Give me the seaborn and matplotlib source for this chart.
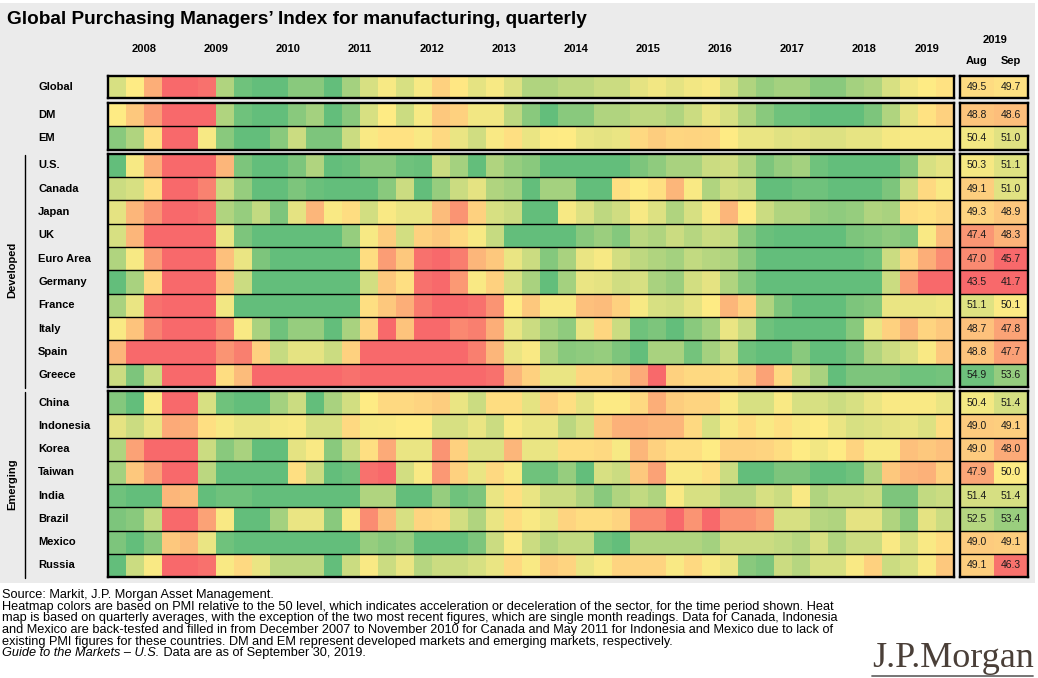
import numpy as np
import pandas as pd
import matplotlib
matplotlib.use("Agg")
import matplotlib.pyplot as plt
import seaborn as sns
from matplotlib.colors import LinearSegmentedColormap, TwoSlopeNorm
from matplotlib.patches import Rectangle
from matplotlib.lines import Line2D
from matplotlib.transforms import blended_transform_factory

# ---------------- data ----------------
year_labels = ["2008", "2009", "2010", "2011", "2012", "2013", "2014", "2015",
               "2016", "2017", "2018", "2019"]
quarters = [f"{y}Q{q}" for y in range(2008, 2020) for q in range(1, 5)][:47]

global_pmi = [51.5, 50, 46.5, 42, 42, 43, 53, 55.5, 56, 56, 54.5, 54.5, 56, 53.5, 51.5, 50.3,
              51.5, 50.3, 48.5, 49.8, 51, 50.3, 51.3, 53, 53, 52.5, 52.5, 52, 52, 51, 50.5, 51,
              50.5, 50.2, 51.5, 53, 54, 53.5, 53.5, 54.5, 54.5, 53.5, 53, 51.5, 50.5, 50, 49.5]
dm = [50, 48, 45.5, 42, 42, 42, 53, 55.5, 56, 56, 54.5, 53.5, 56, 54.5, 51.5, 50,
      52, 50.3, 48, 48.5, 50.5, 50.5, 52.5, 54.5, 56, 54.5, 54.5, 53, 53, 52.5, 52.5, 53,
      52, 50.8, 51.5, 53, 54.5, 55.5, 55.5, 56, 56, 56, 55, 53, 51, 49.5, 48.5]
em = [54.5, 53, 49.3, 42, 42.5, 50.3, 54.5, 56, 56, 54.5, 52, 55, 55, 52, 50.2, 49.5,
      49.5, 50.2, 49, 50.8, 51.8, 50.2, 49.3, 50.8, 50.1, 50, 50.8, 51, 50.8, 49, 48.3, 48.8,
      48.7, 48.8, 50, 50.8, 50.8, 51.2, 51, 51.3, 51.3, 50.9, 50.9, 50.4, 50.2, 50.2, 50.2]
us = [56, 50.3, 46.5, 42, 42, 42, 47, 55, 56, 56, 55, 53, 56, 55.7, 54.5, 54.5,
      55.5, 55.7, 52, 53.5, 56, 53, 54, 54.5, 56, 56, 56, 56, 56, 55, 54.3, 53.3,
      53.3, 52, 51.8, 53, 55, 54, 53.5, 55.5, 56, 56, 56, 56, 54.5, 51.5, 51]
canada = [52, 51.5, 49.2, 42, 42, 44, 52, 54, 56, 56, 55, 55.7, 56, 56, 56, 54.5,
          52, 56, 54, 52, 51, 53, 53.5, 56, 53.5, 53.5, 56, 56, 49.3, 50, 49.3, 47,
          50.2, 53, 51.7, 52.2, 56, 56, 55.5, 55.5, 56, 56, 56, 55, 52, 49, 50.2]
japan = [51, 47, 45, 42.5, 42.5, 43, 53, 54, 52.3, 55, 51, 47, 50.2, 49.2, 51.7, 50.2,
         50.8, 50.8, 47.3, 45, 48.5, 51.5, 52, 56, 56, 50.3, 51.3, 52.5, 51.8, 50.3, 51.3, 53,
         51.5, 50.2, 47, 50, 52, 53, 53, 54, 54.3, 54, 53, 53.3, 49.2, 49.5, 49]
uk = [51.5, 47, 42.5, 42, 42, 42, 50.8, 55, 56, 56, 56, 56, 56, 54, 50.3, 48.2,
      51.7, 48.5, 48, 49, 50.3, 52.2, 56, 56, 56, 56, 54.5, 53.8, 54.7, 52.6, 53, 52,
      52.8, 52, 52.2, 54.5, 55.7, 56, 56, 56, 56, 55, 54.7, 54.3, 54.7, 50.2, 47.3]
euro = [53, 50.3, 45.5, 42, 42, 42, 47.5, 50.8, 55, 56, 56, 56, 56, 56, 49.2, 45.5,
        48, 43, 42.5, 43.7, 47, 48, 50.8, 52, 54.7, 53.3, 50.8, 50.3, 51.7, 52.5, 53, 53.5,
        52.3, 52.8, 53, 54.5, 56, 56, 56, 56, 56, 56, 55.5, 52, 48.7, 46.5, 44.5]
germany = [56, 53.3, 49, 42, 42, 42, 47.7, 52, 56, 56, 56, 56, 56, 56, 51.7, 48,
           49.3, 43, 42.5, 45.3, 50.2, 48.5, 51.5, 53.3, 56, 53.5, 50.8, 51, 51.8, 51.5, 53.3, 53.8,
           51.7, 51, 53, 54.7, 56, 56, 56, 56, 56, 56, 56, 52, 45.5, 42.3, 42.3]
france = [53.3, 50.8, 43, 42, 42, 42, 50.5, 56, 56, 56, 56, 56, 56, 56, 49.3, 48,
          46.5, 43.5, 42.3, 42.3, 43, 45, 50, 48, 50.2, 50.2, 47.5, 47.3, 48.5, 50.3, 51.5, 51.7,
          51, 50, 47, 48.5, 53, 55, 56, 56, 56, 55, 54.7, 50.8, 50.8, 50.8, 50.6]
italy = [50.2, 47.7, 44, 42.3, 42.3, 42.5, 44.5, 50.2, 53.3, 55.5, 54, 54, 56, 53.3, 48.7, 42.5,
         47.7, 42.5, 42.5, 44.3, 43.8, 46.5, 50.8, 52, 53.5, 54.3, 50.8, 48.8, 52, 55.5, 55, 56,
         54.5, 53.5, 50.8, 52.2, 55.5, 56, 56, 56, 56, 54.5, 50.8, 48.5, 47, 48.7, 48]
spain = [47, 42.3, 42.3, 42.3, 42.3, 42.3, 45, 43.8, 48.5, 52.2, 51, 51, 52, 48.5, 42.5, 42.5,
         42.3, 42.3, 42.3, 42.5, 43.8, 47, 50.8, 50.2, 53.3, 54.5, 54.3, 54, 55, 56, 53.3, 53.3,
         55.3, 53.5, 52.2, 55.5, 56, 56, 54.5, 56, 56, 55, 53, 52, 51.3, 50.2, 48]
greece = [52, 55, 52, 42.3, 42.3, 42.3, 49.2, 47.3, 42.3, 42.3, 42.3, 42.3, 42.3, 43, 42.3, 42.3,
          42.3, 42.3, 42.3, 42.3, 42.3, 43, 47, 48.5, 50.8, 50.8, 48.8, 48.8, 48.3, 46.3, 42.5, 48.5,
          49, 49, 49.2, 48.3, 45.8, 49, 52, 53.3, 56, 55, 55, 55, 55.5, 55.5, 55.3]
china = [54.7, 56, 50.2, 42.3, 42.5, 51.5, 55.5, 56, 56, 53.5, 52, 56, 53.3, 51.7, 50, 49,
         49, 48.7, 48.3, 50.8, 52, 49.2, 49.2, 51, 48.5, 49.3, 51, 50.1, 50.1, 49, 46.5, 48.3,
         48.7, 48.7, 50.2, 51.5, 51.5, 50.2, 51.5, 51.5, 52, 51.5, 50.8, 50.2, 50.2, 50.2, 50.8]
indonesia = [51, 52, 50.8, 46.3, 46.5, 49.3, 50.3, 50.8, 50.8, 50.4, 50.2, 51.5, 51.5, 49, 50.3, 50.2,
             50, 50, 51.5, 51.5, 50.8, 52, 50.2, 50.8, 50.8, 52.6, 51.5, 48, 46.7, 46.6, 47, 47,
             49, 51.5, 50.2, 49.2, 50.2, 49.4, 50.2, 50, 50.8, 51.5, 51.3, 51, 50.8, 51.3, 49.2]
korea = [53, 45.8, 42.3, 42.3, 42.3, 52, 54.5, 53.3, 56, 56, 51, 50.2, 54.5, 52, 49.3, 46.3,
         50.8, 50.8, 45, 48.5, 51.3, 51.3, 47, 50.8, 50.8, 49.2, 49.2, 49, 50.3, 47, 48.5, 49.3,
         49.3, 50, 48.5, 48.5, 48.7, 49.2, 50, 50.5, 50, 48.7, 50.2, 50.2, 47.5, 48, 47.5]
taiwan = [53.5, 48, 45.8, 42.3, 42.3, 52.6, 56, 56, 56, 56, 49.3, 52, 56, 55.5, 43, 42.5,
          51.7, 50.2, 45.2, 48.5, 50.8, 49, 50.2, 55.5, 55.5, 54, 56, 51.5, 52, 48, 45.8, 50.2,
          50.2, 49.4, 52, 56, 56, 55, 55, 56, 56, 55.5, 53, 48, 47, 46.7, 48.5]
india = [55.5, 56, 56, 47, 47.3, 56, 55.5, 55.5, 56, 56, 56, 56, 56, 56, 53, 53,
         56, 56, 54, 55.5, 55, 50.8, 49.4, 50.8, 52, 52, 53, 54.5, 53, 52.3, 53, 50.2,
         51.5, 51.5, 52.6, 52.6, 51.5, 52, 50.2, 53, 52.3, 52.3, 52, 55, 55, 52.3, 52]
brazil = [55, 54.5, 52.3, 42.3, 42.3, 45.8, 50.2, 56, 56, 53.5, 50.8, 50.8, 54.5, 50.2, 44.5, 47.3,
          51.5, 48.7, 49, 51.7, 53, 50.8, 49.2, 50.2, 50.8, 48.7, 49.2, 49.2, 48.7, 44.3, 44.3, 42.5,
          45, 42.5, 45, 45, 45.8, 51.5, 51.5, 52.8, 53, 51, 51, 53, 54.5, 51, 52]
mexico = [55, 56, 54.5, 48, 47.3, 50.8, 55.5, 56, 56, 56, 56, 56, 56, 56, 54, 54.5,
          54, 56, 56, 56, 55, 52, 50.2, 52, 53, 52.3, 52.3, 55.5, 56, 53, 53, 53,
          53, 53.5, 52, 52, 52, 52.3, 52.8, 51.5, 53, 52, 52, 50.2, 51.5, 50.2, 49.2]
russia = [56, 52, 50.2, 42.3, 42.3, 43, 50.2, 49, 50.8, 52.6, 52.6, 52.6, 56, 52, 50.2, 52,
          50.8, 52.8, 52, 52, 51.5, 50.8, 49, 50.2, 48.3, 48.7, 50.8, 50.2, 48.7, 48.7, 48.7, 50.2,
          49, 50.2, 50.8, 54.5, 55, 52, 52.8, 51.5, 51.5, 50.2, 48.5, 52, 51.5, 50.2, 48]

row_names = ["Global", "DM", "EM", "U.S.", "Canada", "Japan", "UK", "Euro Area", "Germany",
             "France", "Italy", "Spain", "Greece", "China", "Indonesia", "Korea", "Taiwan",
             "India", "Brazil", "Mexico", "Russia"]
aug_2019 = [49.5, 48.8, 50.4, 50.3, 49.1, 49.3, 47.4, 47.0, 43.5, 51.1, 48.7, 48.8, 54.9,
            50.4, 49.0, 49.0, 47.9, 51.4, 52.5, 49.0, 49.1]
sep_2019 = [49.7, 48.6, 51.0, 51.1, 51.0, 48.9, 48.3, 45.7, 41.7, 50.1, 47.8, 47.7, 53.6,
            51.4, 49.1, 48.0, 50.0, 51.4, 53.4, 49.1, 46.3]

all_rows = [global_pmi, dm, em, us, canada, japan, uk, euro, germany, france, italy, spain,
            greece, china, indonesia, korea, taiwan, india, brazil, mexico, russia]
heat = pd.DataFrame(all_rows, index=row_names, columns=quarters)
panel = pd.DataFrame({"Aug": aug_2019, "Sep": sep_2019}, index=row_names)

groups = [("", 0, 1), ("", 1, 3), ("Developed", 3, 13), ("Emerging", 13, 21)]

# ---------------- style ----------------
sns.set_theme(style="white")
plt.rcParams["font.family"] = ["Liberation Sans", "DejaVu Sans"]
plt.rcParams["text.color"] = "black"

cmap = LinearSegmentedColormap.from_list("pmi", ["#F8696B", "#FFEB84", "#63BE7B"])
norm_main = TwoSlopeNorm(vmin=42.5, vcenter=50, vmax=56)
norm_panel = TwoSlopeNorm(vmin=46, vcenter=50, vmax=55.3)

W, H = 1038, 678
fig = plt.figure(figsize=(W / 100, H / 100), dpi=100)
fig.patch.set_facecolor("white")
fig.add_artist(Rectangle((0, 1 - 583 / H), 1035 / W, (583 - 3) / H,
                         transform=fig.transFigure, facecolor="#EBEBEB",
                         edgecolor="none", zorder=-5))


def px_axes(x0, y0, x1, y1):
    return fig.add_axes([x0 / W, 1 - y1 / H, (x1 - x0) / W, (y1 - y0) / H])


group_px = [(75.5, 97.5), (103, 149.5), (153.5, 387), (391, 577)]
heat_x0, heat_x1 = 108, 954
panel_x0, panel_x1 = 960, 1028

axes_main = []
for (glabel, r0, r1), (y0, y1) in zip(groups, group_px):
    ax = px_axes(heat_x0, y0, heat_x1, y1)
    sub = heat.iloc[r0:r1]
    sns.heatmap(sub, ax=ax, cmap=cmap, norm=norm_main, cbar=False,
                xticklabels=False, yticklabels=False)
    ax.set_xlabel("")
    ax.set_ylabel("")
    for s in ax.spines.values():
        s.set_visible(True)
        s.set_color("black")
        s.set_linewidth(1.7)
    for i in range(1, r1 - r0):
        ax.axhline(i, color="black", lw=1.0)
    for i, name in enumerate(sub.index):
        ax.text(-(heat_x0 - 38) / 18, i + 0.5, name, ha="left", va="center",
                fontsize=8, fontweight="bold", color="black")
    axes_main.append(ax)

    axp = px_axes(panel_x0, y0, panel_x1, y1)
    psub = panel.iloc[r0:r1]
    sns.heatmap(psub, ax=axp, cmap=cmap, norm=norm_panel, cbar=False,
                annot=True, fmt=".1f",
                annot_kws={"fontsize": 7.5, "color": "#1a1a1a"},
                xticklabels=False, yticklabels=False)
    axp.set_xlabel("")
    axp.set_ylabel("")
    for s in axp.spines.values():
        s.set_visible(True)
        s.set_color("black")
        s.set_linewidth(1.7)
    for i in range(1, r1 - r0):
        axp.axhline(i, color="black", lw=1.0)

    if glabel:
        fig.text(12 / W, 1 - ((y0 + y1) / 2) / H, glabel, rotation=90,
                 ha="center", va="center", fontsize=8, fontweight="bold")
        fig.add_artist(Line2D([24.5 / W, 24.5 / W], [1 - (y0 + 1) / H, 1 - (y1 + 1) / H],
                              transform=fig.transFigure, color="black", lw=1.0))

# year labels along the top
ax0 = axes_main[0]
trans = blended_transform_factory(ax0.transData, fig.transFigure)
for k, yl in enumerate(year_labels):
    if yl == "2019":
        xc = 44 + 1.5
    else:
        xc = 4 * k + 2
    ax0.text(xc, 1 - 49 / H, yl, transform=trans, ha="center", va="center",
             fontsize=8, fontweight="bold")

fig.text(995 / W, 1 - 40 / H, "2019", ha="center", va="center", fontsize=8, fontweight="bold")
fig.text(977 / W, 1 - 61 / H, "Aug", ha="center", va="center", fontsize=8, fontweight="bold")
fig.text(1011 / W, 1 - 61 / H, "Sep", ha="center", va="center", fontsize=8, fontweight="bold")

# title
fig.text(7 / W, 1 - 20 / H, "Global Purchasing Managers\u2019 Index for manufacturing, quarterly",
         ha="left", va="center", fontsize=13.7, fontweight="bold", color="black")

# footnotes
foot = [
    "Source: Markit, J.P. Morgan Asset Management.",
    "Heatmap colors are based on PMI relative to the 50 level, which indicates acceleration or deceleration of the sector, for the time period shown. Heat",
    "map is based on quarterly averages, with the exception of the two most recent figures, which are single month readings. Data for Canada, Indonesia",
    "and Mexico are back-tested and filled in from December 2007 to November 2010 for Canada and May 2011 for Indonesia and Mexico due to lack of",
    "existing PMI figures for these countries. DM and EM represent developed markets and emerging markets, respectively.",
]
fs_foot = 9.2
ys = [595, 607, 618.5, 630, 641.5]
for line, yy in zip(foot, ys):
    fig.text(2 / W, 1 - yy / H, line, ha="left", va="center", fontsize=fs_foot, color="black")
it = fig.text(2 / W, 1 - 653 / H, "Guide to the Markets \u2013 U.S.", ha="left", va="center",
              fontsize=fs_foot, style="italic", color="black")
fig.canvas.draw()
bb = it.get_window_extent(renderer=fig.canvas.get_renderer())
fig.text(bb.x1 / W + 0.5 / W, 1 - 653 / H, " Data are as of September 30, 2019.", ha="left",
         va="center", fontsize=fs_foot, color="black")

# logo
fig.text(872 / W, 1 - 667 / H, "J.P.Morgan", ha="left", va="baseline",
         family=["Liberation Serif", "DejaVu Serif"], fontsize=26, color="#4a3f38")
fig.add_artist(Line2D([872 / W, 1033 / W], [1 - 675.5 / H, 1 - 675.5 / H],
                      transform=fig.transFigure, color="#6a6a6a", lw=1.3))

fig.savefig("out.png", dpi=100, facecolor="white")
